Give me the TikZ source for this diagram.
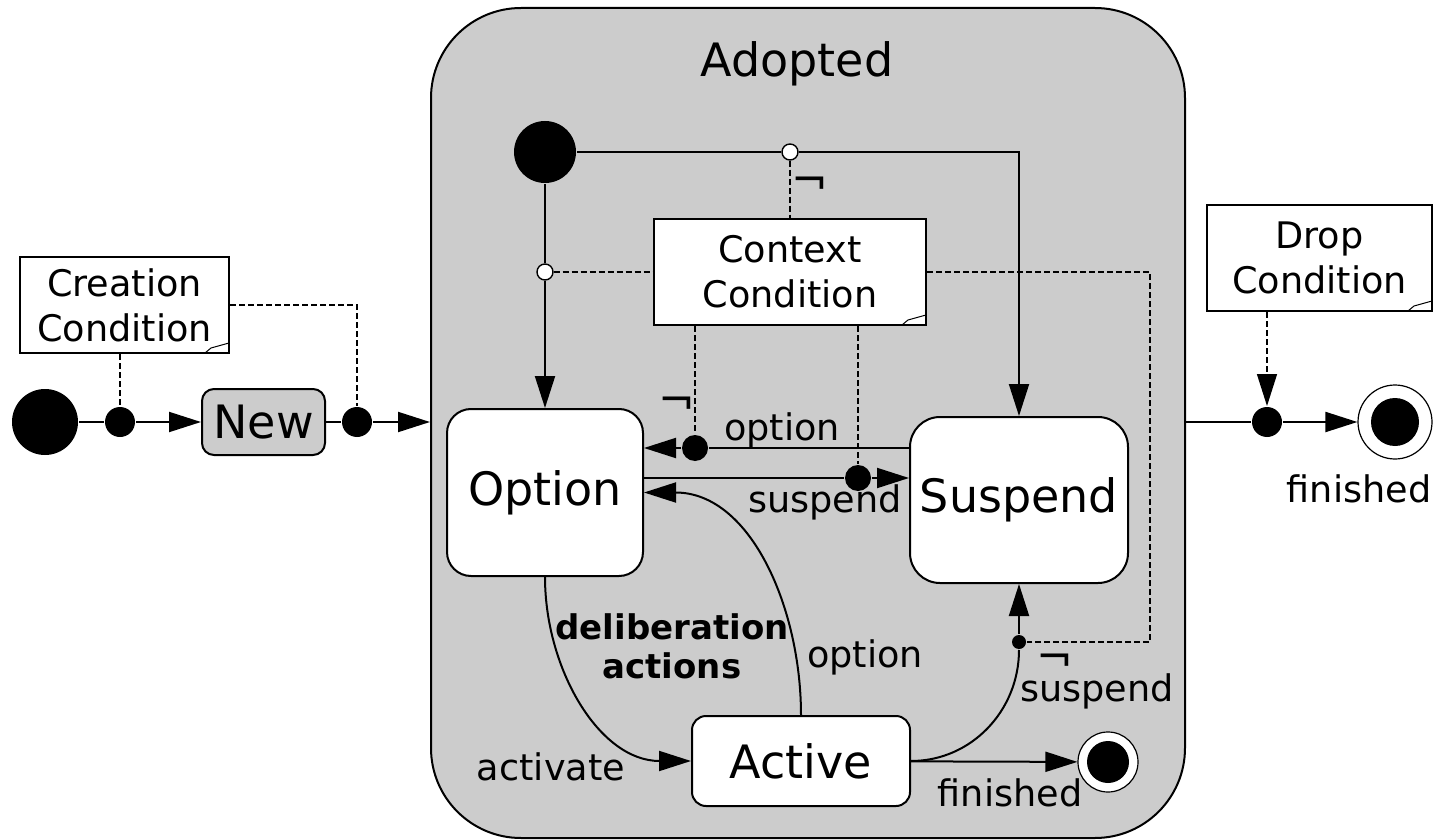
\documentclass[tikz,border=0pt]{standalone}
\usepackage{fontspec}
\setmainfont{DejaVu Sans}
\usetikzlibrary{arrows.meta}

\newcommand\statefont{\fontsize{23}{27}\selectfont}
\newcommand\notefont{\fontsize{18.3}{22.5}\selectfont}
\newcommand\negfont{\fontsize{22}{24}\selectfont}
% negation sign, boxed tight round the glyph
\newcommand\negsign{\raisebox{-0.2em}[0.3em][0pt]{¬}}

\tikzset{
  trans/.style={-{Triangle[length=16pt,width=10pt]}},
  guard/.style={dash pattern=on 3pt off 1.5pt, line width=0.7pt},
  state/.style={draw, fill=white, inner sep=0pt, font=\statefont},
  note/.style={draw, fill=white, inner sep=0pt, align=center, font=\notefont,
    path picture={
      \draw[line width=0.5pt] ([xshift=-12pt]path picture bounding box.south east)
        -- ([xshift=-9pt,yshift=2.5pt]path picture bounding box.south east)
        -- ([yshift=5pt]path picture bounding box.south east);}},
  dot/.style={circle, fill=black, inner sep=0pt},
  cond/.style={circle, draw, fill=white, inner sep=0pt, minimum size=8pt, line width=0.7pt},
  final/.style={circle, draw, fill=white, inner sep=0pt, line width=0.6pt,
    path picture={\fill[black] (path picture bounding box.center) circle (#1);}},
  lbl/.style={font=\notefont, inner sep=0pt},
  neg/.style={font=\negfont, inner sep=0pt}
}

\begin{document}
\begin{tikzpicture}[x=0.5pt, y=-0.5pt, line width=1pt]
\useasboundingbox (0,0) rectangle (1436,840);

% composite state
\node[draw, fill=black!20, rounded corners=45pt, minimum width=377pt, minimum height=415pt] (adopted) at (808,423) {};
\node[font=\statefont] (adoptedname) at (797,64) {Adopted};

% creation
\node[dot, minimum size=33pt] (start) at (45,422) {};
\node[dot, minimum size=15pt] (entry) at (120,422) {};
\node[state, fill=black!20, rounded corners=6pt, minimum width=61.5pt, minimum height=33pt] (new) at (263.5,422) {New};
\node[dot, minimum size=15pt] (adopt) at (357,422) {};
\node[note, minimum width=104.5pt, minimum height=48pt] (creation) at (124.5,305) {Creation\\Condition};

% inside adopted
\node[dot, minimum size=31pt] (init) at (545,152) {};
\node[cond] (ctxsusp) at (790,152) {};
\node[cond] (ctxopt) at (545,272) {};
\node[note, minimum width=136pt, minimum height=53pt] (context) at (790,272) {Context\\Condition};
\node[state, rounded corners=12pt, minimum width=98pt, minimum height=83.5pt] (option) at (545,492.5) {Option};
\node[state, rounded corners=15pt, minimum width=109pt, minimum height=83pt] (suspend) at (1019,500) {Suspend};
\node[state, rounded corners=7pt, minimum width=109pt, minimum height=45pt] (active) at (801,761) {Active};
\node[dot, minimum size=13pt] (toopt) at (695,448) {};
\node[dot, minimum size=13pt] (tosusp) at (858,478) {};
\node[dot, minimum size=7pt] (autosusp) at (1019,642) {};
\node[final=10.5pt, minimum size=30pt] (done) at (1108,762) {};
\coordinate (bend) at (1150,642);

% dropping
\node[dot, minimum size=15pt] (drop) at (1267,422) {};
\node[final=12pt, minimum size=37pt] (end) at (1395,422) {};
\node[note, minimum width=112.5pt, minimum height=53pt] (dropcond) at (1319.5,258) {Drop\\Condition};

% transitions
\draw (start) -- (entry);
\draw[trans] (entry) -- (new);
\draw (new) -- (adopt);
\draw[trans] (adopt) -- (adopted.west |- adopt);
\draw[guard] (creation.south -| entry) -- (entry);
\draw[guard] (creation.east) -| (adopt);

\draw (init) -- (ctxsusp);
\draw[trans] (ctxsusp) -| (suspend);
\draw (init) -- (ctxopt);
\draw[trans] (ctxopt) -- (option);
\draw[guard] (ctxsusp) -- (context);
\draw[guard] (ctxopt) -- (context);
\draw[guard] (context) -| (bend) -- (autosusp);

\draw (suspend.west |- toopt) -- (toopt);
\draw[trans] (toopt) -- (option.east |- toopt);
\draw (option.east |- tosusp) -- (tosusp);
\draw[trans] (tosusp) -- (suspend.west |- tosusp);
\draw[guard] (context.south -| toopt) -- (toopt);
\draw[guard] (context.south -| tosusp) -- (tosusp);

\draw[trans] (option) to[out=-90, in=180] (active);
\draw[trans] (active) to[out=90, in=0] (option);
\draw (active) to[out=0, in=-90] (autosusp);
\draw[trans] (autosusp) -- (suspend);
\draw[trans] (active) -- (done);

\draw (adopted.east |- drop) -- (drop);
\draw[trans] (drop) -- (end);
\draw[guard, trans] (dropcond.south -| drop) -- (drop);

% labels
\node[lbl] (optlbl) at (782,430) {option};
\node[lbl] (susplbl) at (825,502) {suspend};
\node[lbl, font=\bfseries\fontsize{17}{19.5}\selectfont, align=center] (delib) at (672,646) {deliberation\\actions};
\node[lbl] (actlbl) at (551,767) {activate};
\node[lbl] (backlbl) at (865,657) {option};
\node[lbl] (autolbl) at (1097,691) {suspend};
\node[lbl] (donelbl) at (1010,793) {finished};
\node[lbl] (endlbl) at (1359,489) {finished};
\node[neg] (negopt) at (677,400) {\negsign};
\node[neg] (negsusp) at (810,180) {\negsign};
\node[neg] (negauto) at (1055,657) {\negsign};
\end{tikzpicture}
\end{document}
